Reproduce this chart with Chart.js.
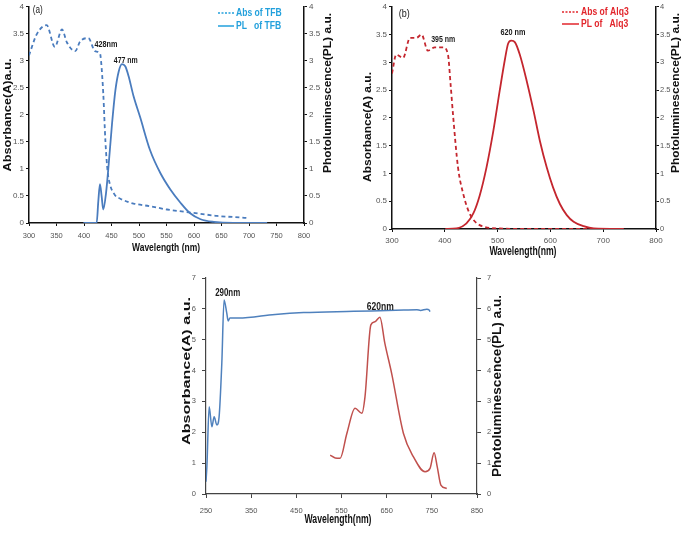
<!DOCTYPE html>
<html>
<head>
<meta charset="utf-8">
<script src="https://cdn.jsdelivr.net/npm/chart.js@4.4.0/dist/chart.umd.min.js"></script>
<style>
  body { margin: 0; background: #fff; }
  #wrap { position: relative; width: 685px; height: 533px; overflow: hidden; }
  canvas { position: absolute; }
</style>
</head>
<body>
<div id="wrap">
  <canvas id="chartA" width="340" height="255" style="left:0;top:0"></canvas>
  <canvas id="chartB" width="345" height="260" style="left:340px;top:0"></canvas>
  <canvas id="chartC" width="345" height="273" style="left:170px;top:260px"></canvas>
</div>
<script>
// ---- (a) TFB ----
const tfbAbsNm  = [300, 314, 332, 347, 360, 369, 384, 393, 408, 420, 429, 431, 435, 439, 443, 447, 456, 466, 480, 490, 520, 551, 581, 612, 642, 672, 700];
const tfbAbsVal = [3.10, 3.49, 3.66, 3.26, 3.58, 3.34, 3.18, 3.36, 3.42, 3.18, 3.14, 3.0, 2.4, 1.5, 0.95, 0.72, 0.52, 0.45, 0.39, 0.36, 0.31, 0.25, 0.21, 0.17, 0.13, 0.11, 0.09];
const tfbPlNm   = [399, 423, 426, 429, 432, 435, 440, 445, 451, 457, 463, 469, 475, 481, 490, 502, 520, 539, 557, 575, 593, 612, 636, 672, 733];
const tfbPlVal  = [0, 0, 0.40, 0.72, 0.50, 0.25, 0.55, 1.10, 1.84, 2.45, 2.80, 2.94, 2.90, 2.72, 2.35, 1.96, 1.35, 0.92, 0.62, 0.38, 0.18, 0.07, 0.02, 0, 0];
const tfbXTicks = [300, 350, 400, 450, 500, 550, 600, 650, 700, 750, 800];
const tfbYTicks = [0, 0.5, 1, 1.5, 2, 2.5, 3, 3.5, 4];

// ---- (b) Alq3 ----
const alqAbsNm  = [300, 308, 321, 334, 346, 356, 368, 381, 397, 406, 411, 416, 425, 435, 447, 466, 504, 560, 620, 680];
const alqAbsVal = [2.80, 3.14, 3.08, 3.44, 3.44, 3.50, 3.21, 3.27, 3.27, 3.14, 2.60, 2.01, 1.11, 0.63, 0.28, 0.07, 0.01, 0, 0, 0];
const alqPlNm   = [401, 422, 441, 454, 466, 479, 492, 504, 514, 520, 526, 533, 542, 555, 568, 580, 593, 605, 618, 631, 644, 663, 682, 739];
const alqPlVal  = [0, 0.01, 0.10, 0.28, 0.60, 1.11, 1.77, 2.49, 3.06, 3.34, 3.39, 3.36, 3.14, 2.67, 2.13, 1.59, 1.11, 0.75, 0.45, 0.25, 0.13, 0.05, 0.01, 0];
const alqXTicks = [300, 400, 500, 600, 700, 800];
const alqYTicks = [0, 0.5, 1, 1.5, 2, 2.5, 3, 3.5, 4];

// ---- (c) film ----
const filmAbsNm  = [250, 252, 257, 263, 268, 274, 279, 285, 290, 296, 299, 303, 322, 403, 466, 577, 688, 717, 725, 739, 744, 746];
const filmAbsVal = [0.40, 0.90, 2.83, 2.18, 2.50, 2.24, 2.50, 4.24, 6.29, 5.86, 5.61, 5.70, 5.70, 5.82, 5.88, 5.92, 5.96, 5.97, 5.95, 5.99, 5.96, 5.91];
const filmPlNm   = [525, 536, 547, 562, 580, 595, 602, 615, 624, 635, 646, 661, 687, 709, 735, 746, 755, 762, 770, 783];
const filmPlVal  = [1.26, 1.17, 1.16, 1.97, 2.78, 2.62, 3.15, 5.48, 5.58, 5.73, 4.88, 3.91, 1.97, 1.21, 0.72, 0.83, 1.34, 0.88, 0.29, 0.18];
const filmXTicks = [250, 350, 450, 550, 650, 750, 850];
const filmYTicks = [0, 1, 2, 3, 4, 5, 6, 7];

const SANS = "'Liberation Sans', Arial, sans-serif";

function points(xs, ys) {
    return xs.map((x, i) => ({ x: x, y: ys[i] }));
}

// text squeezed/stretched to a given width (the scanned figure is not uniformly scaled)
function drawText(ctx, text, x, y, font, color, width, rotate, align) {
    ctx.save();
    ctx.font = font;
    ctx.fillStyle = color;
    ctx.textAlign = align || 'center';
    ctx.textBaseline = 'middle';
    ctx.translate(x, y);
    if (rotate) ctx.rotate(-Math.PI / 2);
    if (width) ctx.scale(width / ctx.measureText(text).width, 1);
    ctx.fillText(text, 0, 0);
    ctx.restore();
}

// notes, axis titles and the small legend
const figureText = {
    id: 'figureText',
    afterDraw(chart, args, opts) {
        const ctx = chart.ctx;
        const xs = chart.scales.x;
        const ys = chart.scales.y;
        (opts.notes || []).forEach(n => {
            drawText(ctx, n.text, xs.getPixelForValue(n.x), ys.getPixelForValue(n.y), n.font, '#1a1a1a', n.width, false);
        });
        (opts.titles || []).forEach(t => {
            drawText(ctx, t.text, t.x, t.y, t.font, '#111', t.width, t.rotate);
        });
        const L = opts.legend;
        if (L) {
            ctx.save();
            chart.data.datasets.forEach((ds, i) => {
                const y = L.y + i * L.gap;
                ctx.strokeStyle = L.color;
                ctx.lineWidth = 1.5;
                ctx.setLineDash(ds.borderDash ? [2, 1.5] : []);
                ctx.beginPath();
                ctx.moveTo(L.x, y);
                ctx.lineTo(L.x + L.len, y);
                ctx.stroke();
                ctx.setLineDash([]);
                ctx.font = L.font;
                const w = ctx.measureText(ds.label).width * L.squeeze;
                drawText(ctx, ds.label, L.x + L.len + 2, y, L.font, L.color, w, false, 'left');
            });
            ctx.restore();
        }
    }
};

function makeAxis(p) {
    return {
        type: 'linear',
        position: p.position,
        min: p.min,
        max: p.max,
        afterBuildTicks: a => { a.ticks = p.ticks.map(v => ({ value: v })); },
        afterFit: a => {
            if (p.position === 'bottom') a.height = p.size; else a.width = p.size;
        },
        border: { display: true, color: p.border, width: p.borderWidth },
        grid: { display: true, drawOnChartArea: false, drawTicks: true, tickLength: p.tickLen, color: p.border, lineWidth: 1 },
        ticks: {
            padding: p.pad,
            color: '#555',
            font: { family: SANS, size: p.fontSize },
            maxRotation: 0,
            autoSkip: false,
            callback: v => String(v)
        },
        title: { display: false }
    };
}

function makePanel(id, cfg) {
    const ctx = document.getElementById(id).getContext('2d');
    return new Chart(ctx, {
        type: 'scatter',
        data: { datasets: cfg.datasets },
        options: {
            responsive: false,
            animation: false,
            events: [],
            layout: { autoPadding: false, padding: { top: cfg.top, left: 0, right: 0, bottom: 0 } },
            plugins: {
                legend: { display: false },
                tooltip: { enabled: false },
                figureText: cfg.text
            },
            scales: {
                x: makeAxis(cfg.x),
                y: makeAxis(cfg.y),
                y2: makeAxis(cfg.y2)
            }
        },
        plugins: [figureText]
    });
}

function lineSet(label, data, color, width, dashed, axisId) {
    return {
        label: label,
        data: data,
        showLine: true,
        borderColor: color,
        backgroundColor: color,
        borderWidth: width,
        borderDash: dashed ? [4, 3] : undefined,
        pointRadius: 0,
        cubicInterpolationMode: 'monotone',
        yAxisID: axisId
    };
}

// ---- panel (a) ----
const blueA = '#4a7cbe';
makePanel('chartA', {
    top: 6,
    datasets: [
        lineSet('Abs of TFB', points(tfbAbsNm, tfbAbsVal), blueA, 1.8, true, 'y'),
        lineSet('PL   of TFB', points(tfbPlNm, tfbPlVal), blueA, 1.8, false, 'y2')
    ],
    x: { min: 300, max: 800, ticks: tfbXTicks, position: 'bottom', size: 32, tickLen: 3, pad: 5, fontSize: 7.5, border: '#111', borderWidth: 1.5 },
    y: { min: 0, max: 4, ticks: tfbYTicks, position: 'left', size: 29, tickLen: 3, pad: 2, fontSize: 8, border: '#111', borderWidth: 1.5 },
    y2: { min: 0, max: 4, ticks: tfbYTicks, position: 'right', size: 36, tickLen: 3, pad: 2, fontSize: 8, border: '#111', borderWidth: 1.5 },
    text: {
        notes: [
            { x: 316, y: 3.94, text: '(a)', font: `10px ${SANS}`, width: 10 },
            { x: 440, y: 3.31, text: '428nm', font: `bold 9px ${SANS}`, width: 23 },
            { x: 476, y: 3.01, text: '477 nm', font: `bold 9px ${SANS}`, width: 24 }
        ],
        titles: [
            { x: 8, y: 115, text: 'Absorbance(A)a.u.', font: `bold 11px ${SANS}`, width: 113, rotate: true },
            { x: 328, y: 93, text: 'Photoluminescence(PL) a.u.', font: `bold 11px ${SANS}`, width: 160, rotate: true },
            { x: 166, y: 248, text: 'Wavelength (nm)', font: `bold 11px ${SANS}`, width: 68 }
        ],
        legend: { x: 218, y: 13, gap: 13, len: 16, color: '#22a0dc', font: `bold 11px ${SANS}`, squeeze: 0.78 }
    }
});

// ---- panel (b) ----
const redB = '#c4262e';
makePanel('chartB', {
    top: 6,
    datasets: [
        lineSet('Abs of Alq3', points(alqAbsNm, alqAbsVal), redB, 1.8, true, 'y'),
        lineSet('PL of   Alq3', points(alqPlNm, alqPlVal), redB, 1.8, false, 'y2')
    ],
    x: { min: 300, max: 800, ticks: alqXTicks, position: 'bottom', size: 31, tickLen: 3, pad: 4, fontSize: 8, border: '#111', borderWidth: 1.5 },
    y: { min: 0, max: 4, ticks: alqYTicks, position: 'left', size: 52, tickLen: 3, pad: 2, fontSize: 8, border: '#111', borderWidth: 1.5 },
    y2: { min: 0, max: 4, ticks: alqYTicks, position: 'right', size: 29, tickLen: 3, pad: 1, fontSize: 7.5, border: '#111', borderWidth: 1.5 },
    text: {
        notes: [
            { x: 323, y: 3.86, text: '(b)', font: `10px ${SANS}`, width: 11 },
            { x: 397, y: 3.42, text: '395 nm', font: `bold 9px ${SANS}`, width: 24 },
            { x: 529, y: 3.53, text: '620 nm', font: `bold 9px ${SANS}`, width: 25 }
        ],
        titles: [
            { x: 28, y: 127, text: 'Absorbance(A) a.u.', font: `bold 11px ${SANS}`, width: 110, rotate: true },
            { x: 336, y: 93, text: 'Photoluminescence(PL) a.u.', font: `bold 10.5px ${SANS}`, width: 160, rotate: true },
            { x: 183, y: 252, text: 'Wavelength(nm)', font: `bold 12px ${SANS}`, width: 67 }
        ],
        legend: { x: 222, y: 12, gap: 12, len: 17, color: '#e2262c', font: `bold 11px ${SANS}`, squeeze: 0.78 }
    }
});

// ---- panel (c) ----
makePanel('chartC', {
    top: 18,
    datasets: [
        lineSet('Abs', points(filmAbsNm, filmAbsVal), '#4f81bd', 1.5, false, 'y'),
        lineSet('PL', points(filmPlNm, filmPlVal), '#c0504d', 1.5, false, 'y2')
    ],
    x: { min: 250, max: 850, ticks: filmXTicks, position: 'bottom', size: 39, tickLen: 4, pad: 8, fontSize: 7.5, border: '#444', borderWidth: 1.2 },
    y: { min: 0, max: 7, ticks: filmYTicks, position: 'left', size: 36, tickLen: 4, pad: 6, fontSize: 7.5, border: '#444', borderWidth: 1.2 },
    y2: { min: 0, max: 7, ticks: filmYTicks, position: 'right', size: 38, tickLen: 4, pad: 6, fontSize: 7.5, border: '#444', borderWidth: 1.2 },
    text: {
        notes: [
            { x: 298, y: 6.51, text: '290nm', font: `bold 11px ${SANS}`, width: 25 },
            { x: 636, y: 6.06, text: '620nm', font: `bold 11px ${SANS}`, width: 27 }
        ],
        titles: [
            { x: 17, y: 111, text: 'Absorbance(A) a.u.', font: `bold 11.5px ${SANS}`, width: 148, rotate: true },
            { x: 328, y: 126, text: 'Photoluminescence(PL) a.u.', font: `bold 12px ${SANS}`, width: 182, rotate: true },
            { x: 168, y: 259, text: 'Wavelength(nm)', font: `bold 13px ${SANS}`, width: 67 }
        ]
    }
});
</script>
</body>
</html>
